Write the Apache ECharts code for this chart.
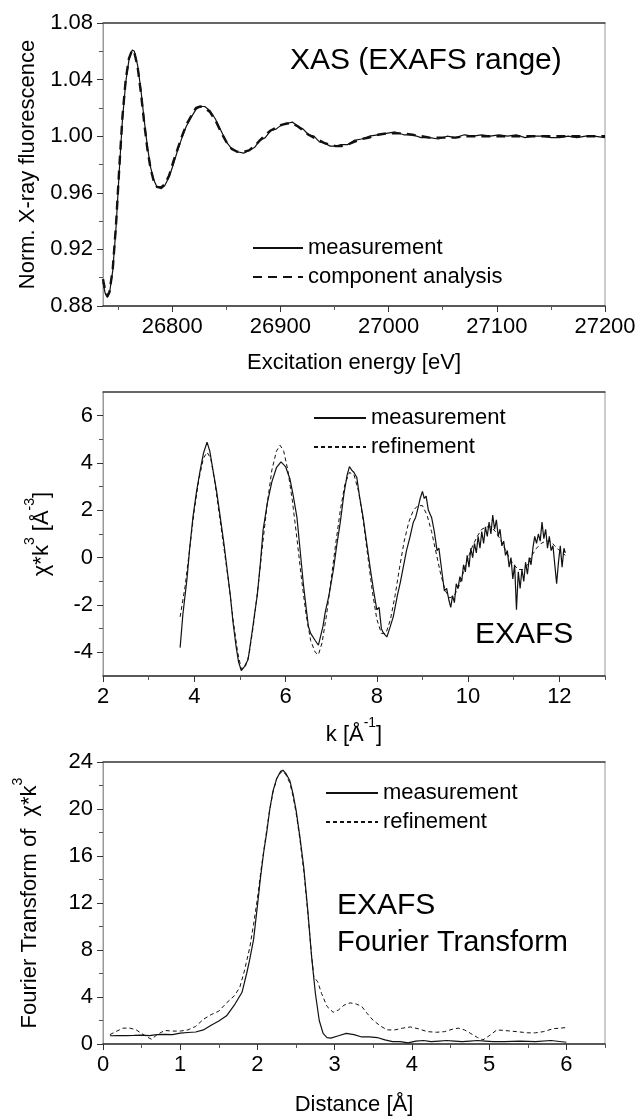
<!DOCTYPE html>
<html>
<head>
<meta charset="utf-8">
<script src="https://cdn.jsdelivr.net/npm/echarts@6/dist/echarts.min.js"></script>
<style>
  html, body { margin: 0; padding: 0; background: #fff; }
  #chart { width: 639px; height: 1118px; }
</style>
</head>
<body>
<div id="chart"></div>
<script>
// ---- panel 1 : XAS (EXAFS range) ----
const energy = [
  26736, 26738, 26740, 26742, 26745, 26748, 26751, 26754, 26757, 26760,
  26763, 26765, 26768, 26771, 26774, 26777, 26780, 26783, 26786, 26790,
  26793, 26797, 26801, 26805, 26809, 26813, 26818, 26822, 26826, 26830,
  26835, 26840, 26845, 26850, 26855, 26860, 26866, 26871, 26876, 26881,
  26886, 26891, 26896, 26901, 26906, 26911, 26916, 26921, 26926, 26931,
  26936, 26941, 26946, 26951, 26956, 26962, 26968, 26975, 26982, 26990,
  26998, 27006, 27014, 27022, 27030, 27038, 27046, 27054, 27062, 27070,
  27078, 27086, 27094, 27102, 27110, 27118, 27126, 27134, 27142, 27150,
  27158, 27166, 27174, 27182, 27190, 27200
];
const xasMeasured = [
  0.897, 0.889, 0.886, 0.889, 0.905, 0.935, 0.975, 1.012, 1.038, 1.054,
  1.061, 1.060, 1.050, 1.033, 1.012, 0.993, 0.978, 0.969, 0.964, 0.963,
  0.965, 0.971, 0.980, 0.990, 0.999, 1.007, 1.014, 1.019, 1.021, 1.021,
  1.018, 1.012, 1.004, 0.996, 0.991, 0.989, 0.988, 0.990, 0.992, 0.997,
  0.999, 1.004, 1.005, 1.008, 1.009, 1.010, 1.007, 1.005, 1.001, 1.000,
  0.996, 0.995, 0.993, 0.993, 0.994, 0.994, 0.997, 0.998, 1.000, 1.001,
  1.002, 1.003, 1.001, 1.001, 0.999, 0.999, 0.998, 1.000, 0.999, 1.001,
  1.000, 1.001, 1.000, 1.001, 1.000, 1.001, 0.999, 1.000, 1.000, 0.999,
  0.999, 1.000, 0.999, 1.000, 1.000, 0.999
];
const xasComponent = [
  0.899, 0.891, 0.887, 0.890, 0.906, 0.937, 0.977, 1.014, 1.040, 1.055,
  1.061, 1.059, 1.049, 1.031, 1.010, 0.991, 0.977, 0.968, 0.964, 0.964,
  0.966, 0.972, 0.982, 0.991, 1.000, 1.008, 1.015, 1.020, 1.021, 1.020,
  1.017, 1.011, 1.003, 0.996, 0.991, 0.989, 0.989, 0.990, 0.993, 0.997,
  1.001, 1.004, 1.006, 1.008, 1.009, 1.009, 1.007, 1.004, 1.001, 0.999,
  0.997, 0.995, 0.994, 0.993, 0.993, 0.994, 0.996, 0.998, 0.999, 1.001,
  1.002, 1.002, 1.002, 1.001, 1.000, 0.999, 0.999, 0.999, 0.999, 1.000,
  1.000, 1.000, 1.000, 1.000, 1.000, 1.000, 1.000, 1.000, 1.000, 1.000,
  1.000, 1.000, 1.000, 1.000, 1.000, 1.000
];
const energyTicks = [26800, 26900, 27000, 27100, 27200];
const energyMinor = [26750, 26850, 26950, 27050, 27150];
const xasTicks = [0.88, 0.92, 0.96, 1.00, 1.04, 1.08];
const xasMinor = [0.90, 0.94, 0.98, 1.02, 1.06];

// ---- panel 2 : EXAFS chi*k^3 ----
const kMeasured = [
  3.69, 3.75, 3.84, 3.9, 3.97, 4.05, 4.13, 4.2, 4.28, 4.34,
  4.41, 4.49, 4.57, 4.65, 4.72, 4.79, 4.85, 4.92, 4.97, 5.03,
  5.1, 5.18, 5.27, 5.32, 5.38, 5.45, 5.51, 5.6, 5.7, 5.8,
  5.9, 6.0, 6.1, 6.17, 6.25, 6.32, 6.39, 6.45, 6.5, 6.55,
  6.65, 6.72, 6.76, 6.82, 6.87, 6.95, 7.05, 7.12, 7.2, 7.28,
  7.35, 7.4, 7.45, 7.5, 7.56, 7.62, 7.7, 7.78, 7.86, 7.93,
  8.0, 8.05, 8.1, 8.15, 8.22, 8.28, 8.36, 8.45, 8.52, 8.58,
  8.65, 8.73, 8.8, 8.85, 8.89, 8.95, 9.0, 9.04, 9.08, 9.13,
  9.2, 9.26, 9.32, 9.36, 9.42, 9.48, 9.53, 9.58, 9.62, 9.66,
  9.7, 9.74, 9.78, 9.82, 9.86, 9.9, 9.94, 9.98, 10.02, 10.06,
  10.1, 10.14, 10.18, 10.22, 10.26, 10.3, 10.34, 10.38, 10.42, 10.46,
  10.5, 10.54, 10.58, 10.62, 10.66, 10.7, 10.74, 10.78, 10.82, 10.86,
  10.9, 10.94, 10.98, 11.02, 11.06, 11.1, 11.14, 11.18, 11.22, 11.26,
  11.3, 11.34, 11.38, 11.42, 11.46, 11.5, 11.54, 11.58, 11.62, 11.66,
  11.7, 11.74, 11.78, 11.82, 11.86, 11.9, 11.94, 11.98, 12.02, 12.06,
  12.1, 12.13
];
const chiMeasured = [
  -3.8, -2.4, -0.9, 0.4, 1.7, 2.8, 3.7, 4.4, 4.88, 4.5,
  3.7, 2.8, 1.7, 0.6, -0.5, -1.6, -2.75, -3.8, -4.4, -4.77,
  -4.6, -4.3, -3.1, -2.4, -1.6, -0.2, 1.2, 2.3, 3.2, 3.8,
  4.05, 3.85, 3.3, 2.6, 1.7, 0.3, -1.1, -2.1, -2.9, -3.2,
  -3.5, -3.7, -3.7, -2.9, -2.3, -1.6, -0.5, 0.5, 1.5, 2.7,
  3.5, 3.85, 3.7, 3.6, 3.4, 2.6, 1.7, 0.6, -0.5, -1.4,
  -2.2, -2.1, -3.0, -3.2, -3.35, -3.0, -2.5, -1.6, -1.0, -0.4,
  0.3, 0.9, 1.5, 1.7, 2.0, 2.5, 2.8, 2.5, 2.6, 2.0,
  1.7, 1.1, 0.3, 0.4, -0.5, -1.4, -1.3, -1.8, -2.1, -1.6,
  -1.9, -1.1, -1.3, -0.8, -1.0, -0.3, -0.6, 0.1, -0.4, 0.4,
  0.0, 0.6, 0.2, 0.9, 0.4, 1.1, 0.6, 1.3, 0.9, 1.5,
  1.0, 1.8, 1.2, 1.6, 0.9, 1.2, 0.5, 0.7, 0.1, 0.3,
  -0.4, 0.0, -0.9, -0.3, -2.2, -0.6, -1.3, -0.5, -1.0, -0.2,
  -0.7, 0.0, -0.3, 0.4, 0.9, 0.6, 1.0, 0.7, 1.5, 0.8,
  1.2, 0.4, 0.9, 0.3, 0.5, -0.3, -1.1, -0.2, 0.5, -0.4,
  0.4, 0.2
];
const kFit = [
  3.69, 3.8, 3.9, 4.0, 4.1, 4.2, 4.28, 4.36, 4.45, 4.55,
  4.65, 4.75, 4.85, 4.95, 5.03, 5.12, 5.2, 5.3, 5.4, 5.5,
  5.6, 5.7, 5.8, 5.88, 5.96, 6.05, 6.15, 6.25, 6.35, 6.45,
  6.55, 6.65, 6.72, 6.8, 6.9, 7.0, 7.1, 7.2, 7.3, 7.4,
  7.5, 7.6, 7.7, 7.8, 7.9, 8.0, 8.1, 8.2, 8.3, 8.4,
  8.5, 8.6, 8.7, 8.8, 8.9, 9.0, 9.1, 9.2, 9.3, 9.4,
  9.5, 9.6, 9.7, 9.8, 9.9, 10.0, 10.1, 10.2, 10.3, 10.4,
  10.5, 10.6, 10.7, 10.8, 10.9, 11.0, 11.1, 11.2, 11.3, 11.4,
  11.5, 11.6, 11.7, 11.8, 11.9, 12.0, 12.13
];
const chiFit = [
  -2.5, -1.2, 0.4, 2.0, 3.3, 4.2, 4.45, 4.2, 3.2, 1.8,
  0.4, -1.0, -2.6, -4.0, -4.7, -4.6, -4.1, -2.8, -1.2, 0.6,
  2.3, 3.7, 4.5, 4.75, 4.5, 3.7, 2.4, 0.8, -0.9, -2.4,
  -3.5, -4.0, -4.1, -3.6, -2.4, -0.9, 0.6, 2.0, 3.1, 3.6,
  3.5, 2.8, 1.6, 0.1, -1.4, -2.6, -3.2, -3.2, -2.6, -1.6,
  -0.4, 0.7, 1.5, 2.0, 2.2, 2.2, 1.8, 1.1, 0.2, -0.7,
  -1.4, -1.7, -1.6, -1.2, -0.6, 0.0, 0.5, 0.9, 1.2, 1.3,
  1.3, 1.1, 0.8, 0.4, 0.0, -0.3, -0.5, -0.5, -0.3, 0.1,
  0.4, 0.6, 0.7, 0.7, 0.5, 0.3, 0.1
];
const kTicks = [2, 4, 6, 8, 10, 12];
const kMinor = [3, 5, 7, 9, 11, 13];
const chiTicks = [-4, -2, 0, 2, 4, 6];
const chiMinor = [-3, -1, 1, 3, 5];

// ---- panel 3 : Fourier transform ----
const rMeasured = [
  0.09, 0.2, 0.3, 0.4, 0.5, 0.6, 0.7, 0.8, 0.9, 1.0,
  1.1, 1.2, 1.3, 1.4, 1.5, 1.6, 1.7, 1.8, 1.86, 1.9,
  1.95, 2.0, 2.04, 2.08, 2.12, 2.16, 2.2, 2.25, 2.3, 2.33,
  2.37, 2.42, 2.46, 2.5, 2.55, 2.6, 2.65, 2.7, 2.75, 2.8,
  2.85, 2.9, 2.95, 3.05, 3.15, 3.25, 3.35, 3.45, 3.55, 3.65,
  3.75, 3.85, 3.95, 4.05, 4.15, 4.25, 4.35, 4.45, 4.55, 4.65,
  4.75, 4.85, 4.95, 5.05, 5.2, 5.4, 5.6, 5.8, 6.0
];
const ftMeasured = [
  0.7, 0.72, 0.72, 0.73, 0.75, 0.72, 0.8, 0.82, 0.8, 0.92,
  0.98, 1.02, 1.2, 1.6, 1.95, 2.4, 3.3, 4.4, 6.0, 7.2,
  8.9, 11.8, 14.2, 16.3, 18.0, 20.0, 21.5, 22.6, 23.2, 23.3,
  23.0, 22.4, 21.3, 19.9, 17.6, 15.0, 11.5, 7.5, 4.3, 2.0,
  0.9, 0.55, 0.5, 0.7, 0.9, 0.8, 0.6, 0.6, 0.55, 0.35,
  0.2, 0.2, 0.1, 0.25, 0.3, 0.2, 0.25, 0.3, 0.25, 0.2,
  0.25, 0.3, 0.25, 0.2, 0.2, 0.25, 0.2, 0.3, 0.15
];
const rFit = [
  0.09, 0.18, 0.26, 0.35, 0.43, 0.5, 0.57, 0.63, 0.7, 0.8,
  0.9, 1.0, 1.1, 1.2, 1.3, 1.4, 1.5, 1.6, 1.7, 1.77,
  1.83, 1.9, 1.95, 2.0, 2.05, 2.1, 2.15, 2.2, 2.25, 2.3,
  2.33, 2.37, 2.42, 2.46, 2.5, 2.55, 2.6, 2.65, 2.7, 2.73,
  2.78, 2.83, 2.9, 2.98, 3.05, 3.12, 3.2, 3.28, 3.35, 3.42,
  3.5, 3.6, 3.68, 3.78, 3.88, 3.98, 4.08, 4.2, 4.32, 4.42,
  4.52, 4.6, 4.68, 4.76, 4.85, 4.92, 5.0, 5.1, 5.2, 5.36,
  5.5, 5.6, 5.7, 5.83, 6.0
];
const ftFit = [
  0.8, 1.1, 1.35, 1.35, 1.2, 0.9, 0.6, 0.4, 0.8, 1.15,
  1.1, 1.1, 1.2, 1.5, 2.1, 2.5, 2.8, 3.5, 4.1, 4.8,
  6.2, 8.2, 10.2, 12.4, 15.0, 17.3, 19.6, 21.4, 22.6, 23.1,
  23.2, 22.9, 22.2, 21.1, 19.7, 17.4, 14.7, 11.3, 7.6, 5.7,
  5.3, 4.3, 3.2, 2.7, 2.9, 3.3, 3.5, 3.4, 3.2, 2.6,
  2.0, 1.5, 1.2, 1.2, 1.35, 1.45, 1.3, 1.05, 1.0, 1.05,
  1.25, 1.35, 1.2, 0.9, 0.55, 0.35, 0.7, 1.2, 1.15, 1.05,
  0.95, 0.95, 1.05, 1.3, 1.4
];
const rTicks = [0, 1, 2, 3, 4, 5, 6];
const rMinor = [0.5, 1.5, 2.5, 3.5, 4.5, 5.5, 6.5];
const ftTicks = [0, 4, 8, 12, 16, 20, 24];
const ftMinor = [2, 6, 10, 14, 18, 22];

const FONT = "'Liberation Sans', Arial, sans-serif";
const zip = (xs, ys) => xs.map((x, i) => [x, ys[i]]);

const grids = [
  { left: 103, top: 23, width: 502, height: 283, show: true, borderColor: '#999', borderWidth: 1 },
  { left: 103, top: 392, width: 502, height: 284, show: true, borderColor: '#999', borderWidth: 1 },
  { left: 103, top: 762, width: 502, height: 282, show: true, borderColor: '#999', borderWidth: 1 }
];

const richName = {
  a: { fontSize: 22, fontFamily: FONT, color: '#000', lineHeight: 30, verticalAlign: 'bottom' },
  s: { fontSize: 14, fontFamily: FONT, color: '#000', lineHeight: 30, verticalAlign: 'top' }
};

// main axis (labels + long ticks), minor axis (short ticks), top axis (dark frame line)
function xAxes(g, min, max, ticks, minor, name, nameGap, fmt) {
  return [
    {
      type: 'value', gridIndex: g, min: min, max: max, position: 'bottom',
      name: name, nameLocation: 'middle', nameGap: nameGap,
      nameTextStyle: { fontSize: 22, fontFamily: FONT, color: '#000', rich: richName },
      axisLine: { onZero: false, lineStyle: { color: '#333', width: 1.5 } },
      axisTick: { customValues: ticks, length: 6, lineStyle: { color: '#333' } },
      axisLabel: { customValues: ticks, margin: 10, fontSize: 22, fontFamily: FONT, color: '#000', formatter: fmt },
      splitLine: { show: false }
    },
    {
      type: 'value', gridIndex: g, min: min, max: max, position: 'bottom',
      axisLine: { show: false, onZero: false },
      axisTick: { customValues: minor, length: 4, lineStyle: { color: '#555' } },
      axisLabel: { show: false }, splitLine: { show: false }
    },
    {
      type: 'value', gridIndex: g, min: min, max: max, position: 'top',
      axisLine: { onZero: false, lineStyle: { color: '#444', width: 1.5 } },
      axisTick: { show: false }, axisLabel: { show: false }, splitLine: { show: false }
    }
  ];
}
function yAxes(g, min, max, ticks, minor, name, nameGap, fmt) {
  return [
    {
      type: 'value', gridIndex: g, min: min, max: max, position: 'left',
      name: name, nameLocation: 'middle', nameGap: nameGap, nameRotate: 90,
      nameTextStyle: { fontSize: 22, fontFamily: FONT, color: '#000', rich: richName },
      axisLine: { show: true, onZero: false, lineStyle: { color: '#999', width: 1 } },
      axisTick: { show: true, customValues: ticks, length: 6, lineStyle: { color: '#333' } },
      axisLabel: { customValues: ticks, margin: 10, fontSize: 22, fontFamily: FONT, color: '#000', formatter: fmt },
      splitLine: { show: false }
    },
    {
      type: 'value', gridIndex: g, min: min, max: max, position: 'left',
      axisLine: { show: false, onZero: false },
      axisTick: { show: true, customValues: minor, length: 4, lineStyle: { color: '#555' } },
      axisLabel: { show: false }, splitLine: { show: false }
    }
  ];
}

const legendText = { fontSize: 22, fontFamily: FONT, color: '#000', lineHeight: 22 };
const legendBase = { orient: 'vertical', itemHeight: 14, itemGap: 7, selectedMode: false,
  textStyle: legendText, itemStyle: { opacity: 0 } };
const solid = { color: '#111', width: 1.2 };

const option = {
  animation: false,
  backgroundColor: '#fff',
  grid: grids,
  xAxis: [].concat(
    xAxes(0, 26736, 27200, energyTicks, energyMinor, 'Excitation energy [eV]', 46, v => String(v)),
    xAxes(1, 2, 13, kTicks, kMinor, '{a|k [Å}{s|-1}{a|]}', 40, v => String(v)),
    xAxes(2, 0, 6.5, rTicks, rMinor, 'Distance [Å]', 50, v => String(v))
  ),
  yAxis: [].concat(
    yAxes(0, 0.88, 1.08, xasTicks, xasMinor, 'Norm. X-ray fluorescence', 62, v => v.toFixed(2)),
    yAxes(1, -5, 7, chiTicks, chiMinor, '{a|χ*k}{s|3}{a| [Å}{s|-3}{a|]}', 50, v => String(Math.round(v))),
    yAxes(2, 0, 24, ftTicks, ftMinor, '{a|Fourier Transform of  χ*k}{s|3}', 62, v => String(Math.round(v)))
  ),
  legend: [
    Object.assign({}, legendBase, { left: 247, top: 232, itemWidth: 50, data: ['measurement', 'component analysis'] }),
    Object.assign({}, legendBase, { left: 308, top: 402, itemWidth: 52, data: ['measurement', 'refinement'] }),
    Object.assign({}, legendBase, { left: 320, top: 777, itemWidth: 52, data: ['measurement', 'refinement'] })
  ],
  graphic: [
    { type: 'text', x: 290, y: 61, style: { text: 'XAS (EXAFS range)', fontSize: 30, fontFamily: FONT, fill: '#000', textVerticalAlign: 'middle' } },
    { type: 'text', x: 475, y: 635, style: { text: 'EXAFS', fontSize: 30, fontFamily: FONT, fill: '#000', textVerticalAlign: 'middle' } },
    { type: 'text', x: 337, y: 906, style: { text: 'EXAFS', fontSize: 30, fontFamily: FONT, fill: '#000', textVerticalAlign: 'middle' } },
    { type: 'text', x: 337, y: 943, style: { text: 'Fourier Transform', fontSize: 29, fontFamily: FONT, fill: '#000', textVerticalAlign: 'middle' } }
  ],
  series: [
    { name: 'measurement', type: 'line', xAxisIndex: 0, yAxisIndex: 0, symbol: 'none',
      lineStyle: solid, data: zip(energy, xasMeasured), z: 3 },
    { name: 'component analysis', type: 'line', xAxisIndex: 0, yAxisIndex: 0, symbol: 'none',
      lineStyle: { color: '#111', width: 2.4, type: [9, 6] }, data: zip(energy, xasComponent), z: 2 },
    { name: 'measurement', type: 'line', xAxisIndex: 3, yAxisIndex: 2, symbol: 'none',
      lineStyle: solid, data: zip(kMeasured, chiMeasured), z: 3 },
    { name: 'refinement', type: 'line', xAxisIndex: 3, yAxisIndex: 2, symbol: 'none',
      lineStyle: { color: '#111', width: 1, type: [4, 3] }, data: zip(kFit, chiFit), z: 2 },
    { name: 'measurement', type: 'line', xAxisIndex: 6, yAxisIndex: 4, symbol: 'none',
      lineStyle: solid, data: zip(rMeasured, ftMeasured), z: 3 },
    { name: 'refinement', type: 'line', xAxisIndex: 6, yAxisIndex: 4, symbol: 'none',
      lineStyle: { color: '#111', width: 1, type: [4, 3] }, data: zip(rFit, ftFit), z: 2 }
  ]
};

const myChart = echarts.init(document.getElementById('chart'));
myChart.setOption(option);
window.addEventListener('resize', function () {
  myChart.resize();
});
</script>
</body>
</html>
